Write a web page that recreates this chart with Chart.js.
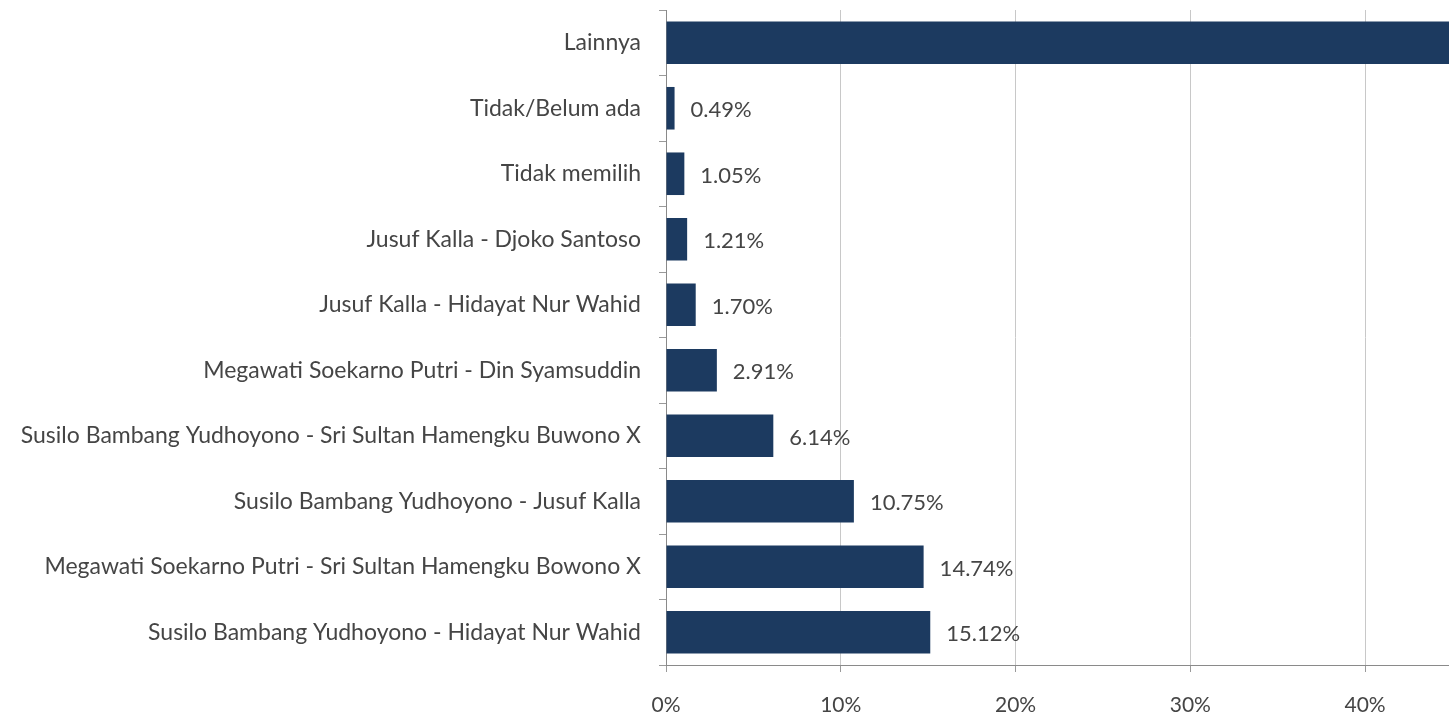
<!DOCTYPE html>
<html>
<head>
<meta charset="utf-8">
<script src="https://cdn.jsdelivr.net/npm/chart.js@4.4.0/dist/chart.umd.min.js"></script>
<style>
  html, body { margin: 0; padding: 0; background: #fff; overflow: hidden; }
  #wrap { position: relative; width: 1449px; height: 717px; }
</style>
</head>
<body>
<div id="wrap"><canvas id="pairChart"></canvas></div>
<script>
const categories = [
  'Lainnya',
  'Tidak/Belum ada',
  'Tidak memilih',
  'Jusuf Kalla - Djoko Santoso',
  'Jusuf Kalla - Hidayat Nur Wahid',
  'Megawati Soekarno Putri - Din Syamsuddin',
  'Susilo Bambang Yudhoyono - Sri Sultan Hamengku Buwono X',
  'Susilo Bambang Yudhoyono - Jusuf Kalla',
  'Megawati Soekarno Putri - Sri Sultan Hamengku Bowono X',
  'Susilo Bambang Yudhoyono - Hidayat Nur Wahid'
];
const shares = [45.89, 0.49, 1.05, 1.21, 1.70, 2.91, 6.14, 10.75, 14.74, 15.12];
const tickValues = [0, 10, 20, 30, 40];

const FONT = 'Lato, "Open Sans", sans-serif';
const TEXT = '#454545';

// value labels to the right of each bar
const valueLabels = {
  id: 'valueLabels',
  afterDatasetsDraw(chart) {
    const { ctx, chartArea } = chart;
    const meta = chart.getDatasetMeta(0);
    ctx.save();
    ctx.font = '22px ' + FONT;
    ctx.fillStyle = TEXT;
    ctx.textAlign = 'left';
    ctx.textBaseline = 'middle';
    meta.data.forEach((bar, i) => {
      const x = bar.x + 16;
      if (x > chartArea.right) return;
      ctx.fillText(shares[i].toFixed(2) + '%', x, bar.y + 2);
    });
    ctx.restore();
  }
};

const ctx = document.getElementById('pairChart').getContext('2d');
new Chart(ctx, {
  type: 'bar',
  data: {
    labels: categories,
    datasets: [{
      data: shares,
      backgroundColor: '#1c3a60',
      borderWidth: 0,
      barPercentage: 0.65,
      categoryPercentage: 1
    }]
  },
  options: {
    indexAxis: 'y',
    responsive: true,
    maintainAspectRatio: false,
    animation: false,
    layout: { padding: { top: 10, right: 0, bottom: 0, left: 0 } },
    plugins: {
      legend: { display: false },
      tooltip: { enabled: false }
    },
    scales: {
      x: {
        min: 0,
        max: 44.8,
        afterBuildTicks: (scale) => {
          scale.ticks = tickValues.map(v => ({ value: v }));
        },
        afterFit: (scale) => { scale.height = 52; },
        grid: { color: '#c8c8c8', lineWidth: 1, tickLength: 7, tickColor: '#9a9a9a' },
        border: { display: true, color: '#8a8a8a' },
        ticks: {
          color: TEXT,
          font: { family: FONT, size: 21 },
          padding: 21,
          callback: (v) => v + '%'
        }
      },
      y: {
        afterFit: (scale) => {
          scale.width = 666;
          scale.paddingTop = 0;
          scale.paddingBottom = 0;
        },
        grid: { offset: true, drawOnChartArea: false, tickLength: 7, tickColor: '#9a9a9a' },
        border: { display: true, color: '#8a8a8a' },
        ticks: {
          color: TEXT,
          font: { family: FONT, size: 23 },
          padding: 18
        }
      }
    }
  },
  plugins: [valueLabels]
});
</script>
</body>
</html>
